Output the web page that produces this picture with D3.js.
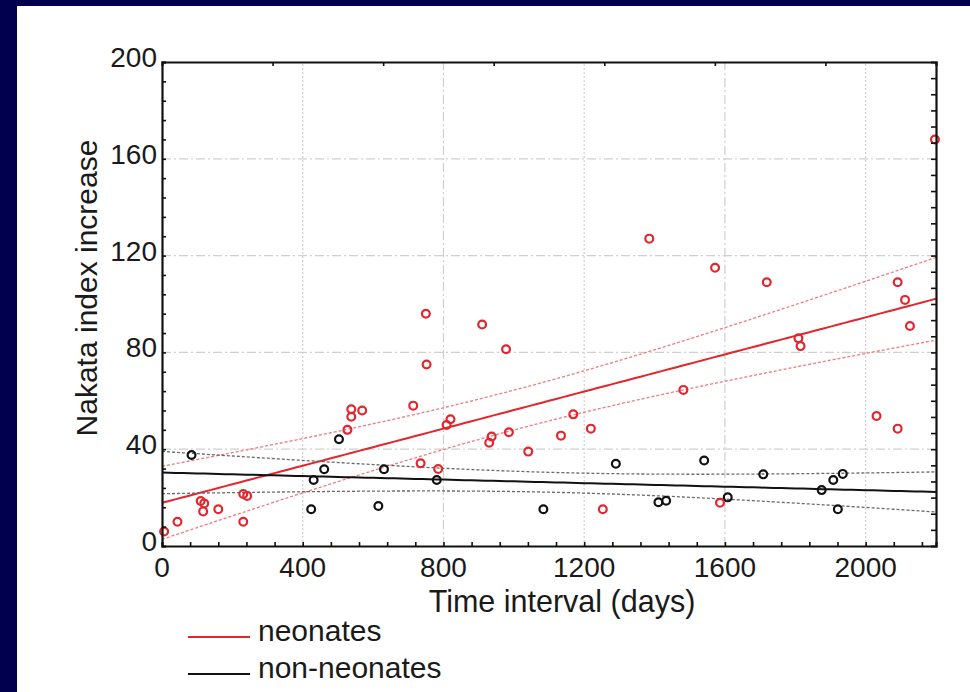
<!DOCTYPE html>
<html>
<head>
<meta charset="utf-8">
<script src="https://cdn.jsdelivr.net/npm/d3@7"></script>
<style>
  body { margin: 0; background: #00004e; }
  svg { display: block; }
  text { font-family: "Liberation Sans", Arial, sans-serif; fill: #1a1a1a; }
</style>
</head>
<body>
<script>
// days, index increase
let neoDays = [6, 44, 110, 120, 117, 160, 231, 242, 231, 527, 538, 538, 569, 714, 735, 750, 752, 785,
    809, 820, 910, 978, 937, 930, 986, 1041, 1134, 1169, 1219, 1253, 1385, 1482, 1572, 1586, 1719,
    1809, 1815, 2031, 2091, 2091, 2112, 2126, 2197];
let neoVals = [6, 10, 18.6, 17.6, 14.3, 15.2, 21.5, 20.7, 10, 48, 56.5, 53.4, 56, 58, 34.2, 96, 75, 31.8,
    50, 52.4, 91.5, 81.3, 45.2, 42.7, 47, 39, 45.6, 54.4, 48.5, 15.2, 127, 64.5, 115, 17.9, 109,
    85.8, 82.6, 53.7, 48.5, 109, 101.7, 90.9, 168];

let nonDays = [84, 424, 431, 461, 503, 615, 631, 781, 1084, 1290, 1411, 1433, 1541, 1608, 1709, 1875, 1908, 1921, 1935];
let nonVals = [37.6, 15.2, 27.3, 31.7, 44.1, 16.5, 31.7, 27.3, 15.2, 34, 18.1, 18.7, 35.3, 20.1, 29.6, 23.1, 27.3, 15.2, 29.8];

let xTicks = [0, 400, 800, 1200, 1600, 2000];
let yTicks = [0, 40, 80, 120, 160, 200];
let seriesNames = ['neonates', 'non-neonates'];
let seriesColors = ['#e3262d', '#111111'];

let width = 970, height = 692;
let margin = {left: 162, top: 62, right: 34, bottom: 146};

let svg = d3.select('body').append('svg')
    .attr('width', width)
    .attr('height', height);

// white slide panel
svg.append('rect')
    .attr('x', 17).attr('y', 6)
    .attr('width', width - 17).attr('height', height - 6)
    .attr('fill', '#ffffff');

let x = d3.scaleLinear().domain([0, 2200]).range([margin.left, width - margin.right]);
let y = d3.scaleLinear().domain([0, 200]).range([height - margin.bottom, margin.top]);

// grid
let grid = svg.append('g').attr('id', 'gridG');
grid.selectAll('line.h')
    .data(yTicks.filter(d => d > 0 && d < 200))
    .join('line')
    .attr('x1', x(0)).attr('x2', x(2200))
    .attr('y1', d => y(d)).attr('y2', d => y(d))
    .attr('stroke', '#cfcfcf')
    .attr('stroke-width', 1.2)
    .attr('stroke-dasharray', '9,3,2,3');
grid.selectAll('line.v')
    .data(xTicks.filter(d => d > 0))
    .join('line')
    .attr('x1', d => x(d)).attr('x2', d => x(d))
    .attr('y1', y(0)).attr('y2', y(200))
    .attr('stroke', '#cfcfcf')
    .attr('stroke-width', 1.2)
    .attr('stroke-dasharray', d => (d % 800 == 0) ? '9,3,2,3' : '2,2');

// regression with 95% confidence band
function fit(xs, ys, tval) {
    let n = xs.length;
    let mx = d3.mean(xs), my = d3.mean(ys);
    let sxx = d3.sum(xs, v => (v - mx) ** 2);
    let sxy = d3.sum(xs, (v, i) => (v - mx) * (ys[i] - my));
    let b = sxy / sxx, a = my - b * mx;
    let s = Math.sqrt(d3.sum(xs, (v, i) => (ys[i] - a - b * v) ** 2) / (n - 2));
    let grid = d3.range(0, 2201, 20);
    let f = v => a + b * v;
    let half = v => tval * s * Math.sqrt(1 / n + (v - mx) ** 2 / sxx);
    return {
        mid: grid.map(v => [v, f(v)]),
        lo: grid.map(v => [v, f(v) - half(v)]),
        hi: grid.map(v => [v, f(v) + half(v)])
    };
}

let line = d3.line().x(d => x(d[0])).y(d => y(d[1]));

let fits = [fit(neoDays, neoVals, 2.02), fit(nonDays, nonVals, 2.11)];
let lineG = svg.append('g').attr('id', 'fitG');
fits.forEach((ft, i) => {
    let col = i == 0 ? '#f07a7e' : '#6a6a6a';
    lineG.append('path').attr('d', line(ft.lo)).attr('fill', 'none')
        .attr('stroke', col).attr('stroke-width', 1.3).attr('stroke-dasharray', '3,2');
    lineG.append('path').attr('d', line(ft.hi)).attr('fill', 'none')
        .attr('stroke', col).attr('stroke-width', 1.3).attr('stroke-dasharray', '3,2');
    lineG.append('path').attr('d', line(ft.mid)).attr('fill', 'none')
        .attr('stroke', seriesColors[i]).attr('stroke-width', 2);
});

// points
let pts = svg.append('g').attr('id', 'pointG');
pts.selectAll('circle.non')
    .data(nonDays.map((d, i) => [d, nonVals[i]]))
    .join('circle')
    .attr('cx', d => x(d[0])).attr('cy', d => y(d[1]))
    .attr('r', 3.9)
    .attr('fill', 'none')
    .attr('stroke', seriesColors[1])
    .attr('stroke-width', 2.2);
pts.selectAll('circle.neo')
    .data(neoDays.map((d, i) => [d, neoVals[i]]))
    .join('circle')
    .attr('cx', d => x(d[0])).attr('cy', d => y(d[1]))
    .attr('r', 3.9)
    .attr('fill', 'none')
    .attr('stroke', seriesColors[0])
    .attr('stroke-width', 2.2);

// axes (ticks inside the frame)
svg.append('g')
    .attr('transform', `translate(0,${y(0)})`)
    .call(d3.axisBottom(x).tickValues(d3.range(0, 2200, 80)).tickSize(-4).tickFormat(''));
svg.append('g')
    .attr('transform', `translate(0,${y(200)})`)
    .call(d3.axisTop(x).tickValues(d3.range(1, 7).map(k => k * 2200 / 7)).tickSize(-4).tickFormat(''));
svg.append('g')
    .attr('transform', `translate(${x(0)},0)`)
    .call(d3.axisLeft(y).tickValues(d3.range(0, 201, 8)).tickSize(-4).tickFormat(''));
svg.append('g')
    .attr('transform', `translate(${x(2200)},0)`)
    .call(d3.axisRight(y).tickValues(d3.range(1, 30).map(k => k * 40 / 6)).tickSize(-5).tickFormat(''));
svg.selectAll('.domain').attr('stroke', '#111').attr('stroke-width', 2.2);
svg.selectAll('.tick line').attr('stroke', '#111').attr('stroke-width', 1.6);

// tick labels
svg.append('g').selectAll('text')
    .data(xTicks)
    .join('text')
    .attr('x', d => x(d)).attr('y', 577)
    .attr('text-anchor', 'middle')
    .attr('font-size', 28)
    .text(d => d);
svg.append('g').selectAll('text')
    .data(yTicks)
    .join('text')
    .attr('x', 157).attr('y', d => y(d) + 5)
    .attr('text-anchor', 'end')
    .attr('font-size', 28)
    .text(d => d);

// axis titles
svg.append('text')
    .attr('x', 562).attr('y', 612)
    .attr('text-anchor', 'middle')
    .attr('font-size', 30.5)
    .text('Time interval (days)');
svg.append('text')
    .attr('transform', 'translate(97,288) rotate(-90)')
    .attr('text-anchor', 'middle')
    .attr('font-size', 30)
    .text('Nakata index increase');

// legend
let legend = svg.append('g').attr('id', 'legendG');
seriesNames.forEach((name, i) => {
    let ly = 637 + i * 37;
    legend.append('line')
        .attr('x1', 188).attr('x2', 250)
        .attr('y1', ly).attr('y2', ly)
        .attr('stroke', seriesColors[i]).attr('stroke-width', 2);
    legend.append('text')
        .attr('x', 258).attr('y', ly + 4)
        .attr('font-size', 30)
        .text(name);
});
</script>
</body>
</html>
